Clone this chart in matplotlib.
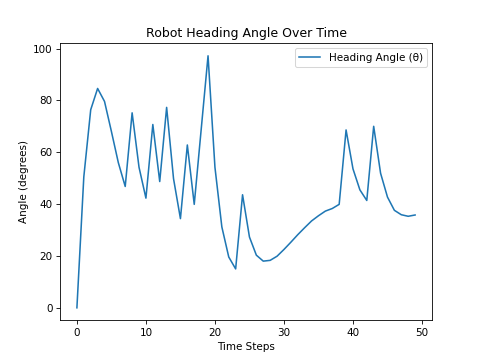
import numpy as np
import matplotlib
matplotlib.use("Agg")
import matplotlib.pyplot as plt

# heading angle per time step
time_steps = np.arange(50)
heading_deg = [
    0.0, 50.5, 76.4, 84.6, 79.6, 68.0, 56.0, 46.8, 75.2, 54.2,
    42.3, 70.7, 48.7, 77.3, 49.8, 34.4, 62.8, 39.9, 68.6, 97.2,
    54.2, 31.2, 19.6, 15.0, 43.6, 27.3, 20.3, 18.0, 18.3, 19.9,
    22.5, 25.3, 28.2, 30.9, 33.5, 35.5, 37.3, 38.3, 39.9, 68.6,
    53.6, 45.5, 41.4, 70.0, 51.9, 42.7, 37.6, 35.9, 35.3, 35.8,
]

plt.figure(figsize=(6.4, 4.8), dpi=75)
plt.plot(time_steps, heading_deg, label='Heading Angle (θ)')
plt.xlabel('Time Steps')
plt.ylabel('Angle (degrees)')
plt.title('Robot Heading Angle Over Time')
plt.legend(loc='upper right')

plt.savefig('out.png', dpi=75)
plt.close()
